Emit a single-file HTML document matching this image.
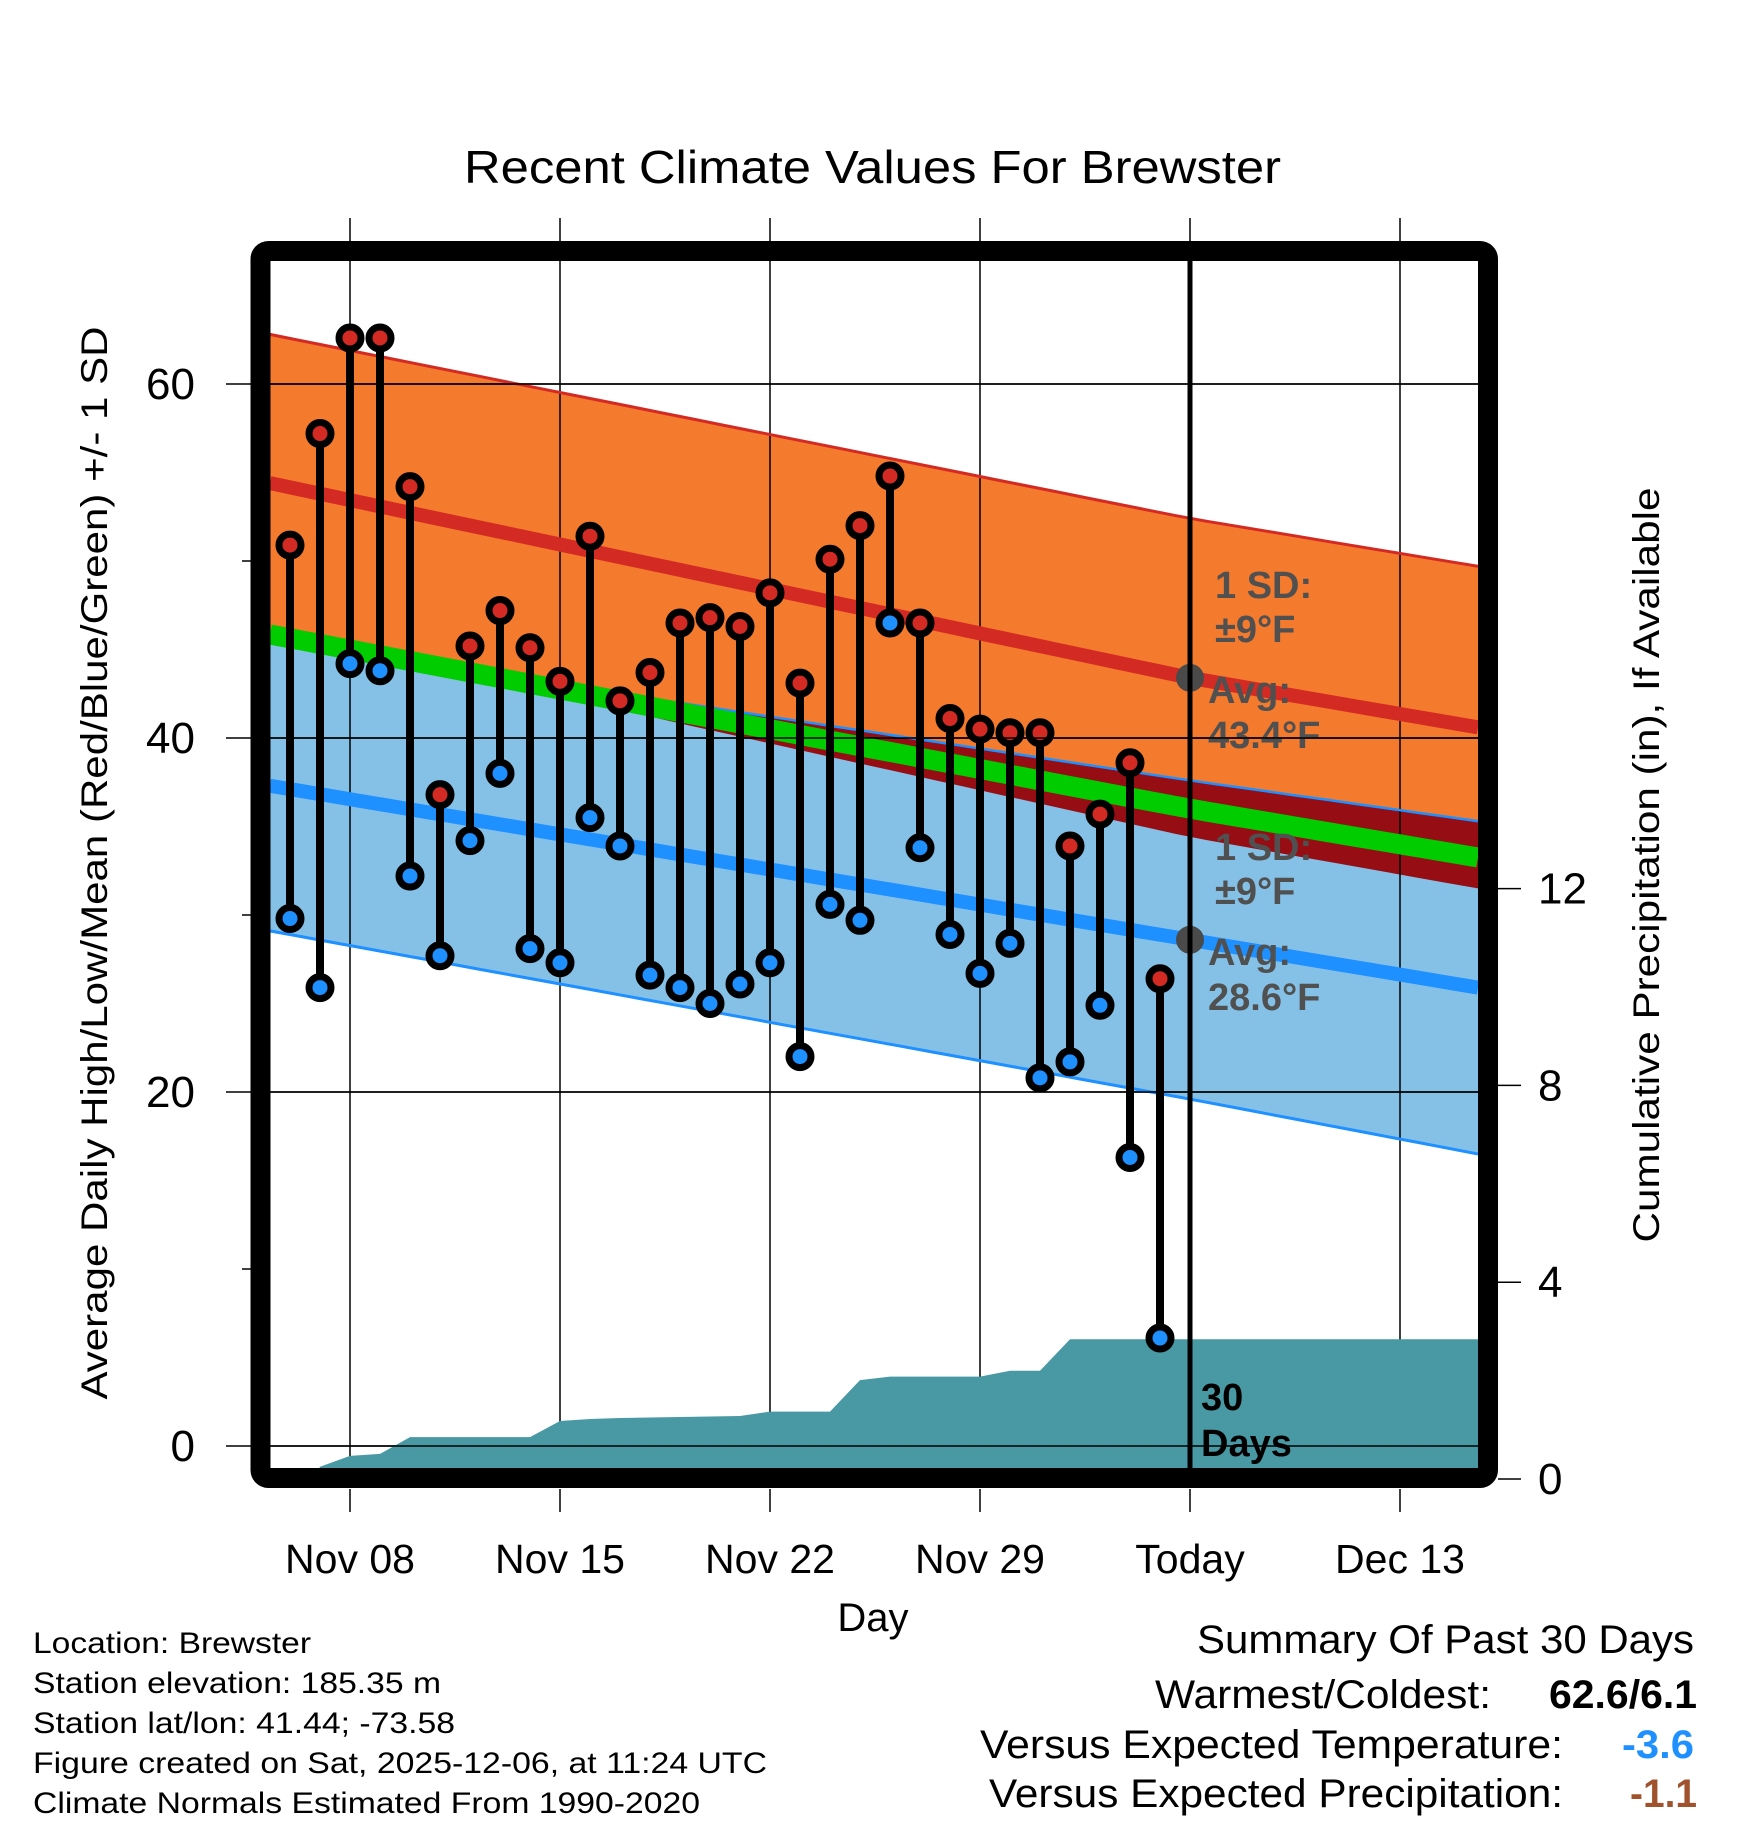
<!DOCTYPE html>
<html><head><meta charset="utf-8"><style>
html,body{margin:0;padding:0;background:#fff;}
svg{display:block;font-family:"Liberation Sans",Arial,sans-serif;}
</style></head><body>
<svg id="chart" width="1748" height="1828" viewBox="0 0 1748 1828" xmlns="http://www.w3.org/2000/svg">
<defs><clipPath id="plotclip"><rect x="270" y="261" width="1208" height="1207"/></clipPath></defs>
<g id="plot" clip-path="url(#plotclip)"></g>
<g id="overlay"></g>
</svg>
<script>
// ---- data ----
const days = [-2,-1,0,1,2,3,4,5,6,7,8,9,10,11,12,13,14,15,16,17,18,19,20,21,22,23,24,25,26,27];
const highs = [50.9,57.2,62.6,62.6,54.2,36.8,45.2,47.2,45.1,43.2,51.4,42.1,43.7,46.5,46.8,46.3,48.2,43.1,50.1,52.0,54.8,46.5,41.1,40.5,40.3,40.3,33.9,35.7,38.6,26.4];
const lows = [29.8,25.9,44.2,43.8,32.2,27.7,34.2,38.0,28.1,27.3,35.5,33.9,26.6,25.9,25.0,26.1,27.3,22.0,30.6,29.7,46.5,33.8,28.9,26.7,28.4,20.8,21.7,24.9,16.3,6.1];
const precip = [0,0.25,0.47,0.51,0.85,0.85,0.85,0.85,0.85,1.18,1.22,1.24,1.25,1.26,1.27,1.28,1.37,1.37,1.37,2.01,2.08,2.08,2.08,2.08,2.2,2.2,2.84,2.84,2.84,2.84];
const normDays = [-2.67, 28, 37.6];
const normHigh = [54.4, 43.4, 40.6];
const normLow = [37.3, 28.6, 25.9];
const sdHigh = [8.4, 9.0, 9.1];
const sdLow = [8.2, 9.0, 9.4];
const xTickDays = [0,7,14,21,28,35];
const xTickLabels = ["Nov 08","Nov 15","Nov 22","Nov 29","Today","Dec 13"];
const yTicks = [0,20,40,60];
const yMinor = [10,30,50];
const pTicks = [0,4,8,12];

// ---- scales ----
const X = d => 350 + 30*d;
const Y = v => 1446 - 17.7*v;
const P = p => 1479 - 49.2*p;
const NS = "http://www.w3.org/2000/svg";
const plot = document.getElementById('plot');
const ov = document.getElementById('overlay');
function el(tag, attrs, parent, text){
  const e=document.createElementNS(NS,tag);
  for(const k in attrs) e.setAttribute(k,attrs[k]);
  if(text!==undefined) e.textContent=text;
  parent.appendChild(e); return e;
}
function interp(arr, d){
  for(let i=0;i<normDays.length-1;i++){
    if(d<=normDays[i+1]||i==normDays.length-2){
      const t=(d-normDays[i])/(normDays[i+1]-normDays[i]);
      return arr[i]+t*(arr[i+1]-arr[i]);
    }
  }
}
const sampleDays=[];
for(let d=normDays[0]; d<=normDays[normDays.length-1]+0.001; d+= (normDays[normDays.length-1]-normDays[0])/40) sampleDays.push(d);
const lineStr = f => sampleDays.map(d=>X(d).toFixed(1)+','+Y(f(d)).toFixed(1));
const revStr = f => sampleDays.slice().reverse().map(d=>X(d).toFixed(1)+','+Y(f(d)).toFixed(1));
const hi = d=>interp(normHigh,d), lo = d=>interp(normLow,d);
const sh = d=>interp(sdHigh,d), sl = d=>interp(sdLow,d);

// gridlines (under)
yTicks.forEach(v=>{ const g=el('line',{x1:226,x2:1478,y1:Y(v),y2:Y(v),stroke:'#000','stroke-width':1.5},ov);

 });
// bands
let e;
e=el('polygon',{points:lineStr(d=>lo(d)+sl(d)).concat(revStr(d=>lo(d)-sl(d))).join(' '),fill:'#85c1e6'},plot);


e=el('polygon',{points:lineStr(d=>lo(d)+sl(d)).concat(revStr(d=>Math.min(hi(d)-sh(d),lo(d)+sl(d)))).join(' '),fill:'#960d14'},plot);


e=el('polygon',{points:lineStr(d=>hi(d)+sh(d)).concat(revStr(d=>Math.max(lo(d)+sl(d),hi(d)-sh(d)))).join(' '),fill:'#f47a2e'},plot);


// grid inside plot over bands
yTicks.forEach(v=>{ const g=el('line',{x1:270,x2:1478,y1:Y(v),y2:Y(v),stroke:'#000','stroke-width':1.5},plot);

 });
xTickDays.forEach(d=>{ const g=el('line',{x1:X(d),x2:X(d),y1:261,y2:1468,stroke:'#000','stroke-width':1.5},plot);

 });
// precip
const pp=[X(-1.2)+','+P(0)];
days.forEach((d,i)=>{ if(d>=-1) pp.push(X(d)+','+P(precip[i])); });
pp.push('1478,'+P(precip[precip.length-1]),'1478,1480',X(-1.2)+',1480');
e=el('polygon',{points:pp.join(' '),fill:'#4899a3'},plot);


// lines
const lines=[
 [d=>lo(d)+sl(d),'#1e90ff',2.5,'low-plus-sd-line'],
 [d=>(hi(d)+lo(d))/2,'#00cc00',20,'mean-line'],
 [hi,'#d42a24',14,'avg-high-line'],
 [d=>hi(d)+sh(d),'#d42a24',3,'high-plus-sd-line'],
 [lo,'#1e90ff',14,'avg-low-line'],
 [d=>lo(d)-sl(d),'#1e90ff',3,'low-minus-sd-line']];
lines.forEach(l=>{ const p=el('polyline',{points:lineStr(l[0]).join(' '),fill:'none',stroke:l[1],'stroke-width':l[2]},plot);

 });
// annotations
const ann=[[1215,598,'1 SD:'],[1215,642,'±9°F'],[1208,703,'Avg:'],[1208,748,'43.4°F'],[1215,860,'1 SD:'],[1215,904,'±9°F'],[1208,965,'Avg:'],[1208,1010,'28.6°F']];
ann.forEach(a=>{ const t=el('text',{x:a[0],y:a[1],'font-size':38,'font-weight':'bold',fill:'#505050'},plot,a[2]);

 });
// today dots
[[hi,'today-avg-high-dot'],[lo,'today-avg-low-dot']].forEach(a=>{ const c=el('circle',{cx:X(28),cy:Y(a[0](28)),r:14,fill:'#4a4a4a'},plot);

 });
// today line
e=el('line',{x1:X(28),x2:X(28),y1:261,y2:1468,stroke:'#000','stroke-width':5},plot);


e=el('text',{x:1201,y:1410,'font-size':38,'font-weight':'bold',fill:'#000'},plot,'30');


e=el('text',{x:1201,y:1456,'font-size':38,'font-weight':'bold',fill:'#000'},plot,'Days');


// stems & markers
days.forEach((d,i)=>{
  const s=el('line',{x1:X(d),x2:X(d),y1:Y(highs[i]),y2:Y(lows[i]),stroke:'#000','stroke-width':8},plot);
  
  
});
days.forEach((d,i)=>{
  const a=el('circle',{cx:X(d),cy:Y(highs[i]),r:11,fill:'#d42a24',stroke:'#000','stroke-width':7},plot);
  
  
  const b=el('circle',{cx:X(d),cy:Y(lows[i]),r:11,fill:'#1e90ff',stroke:'#000','stroke-width':7},plot);
  
  
});
// frame
e=el('rect',{x:260.5,y:251,width:1227.5,height:1227,rx:8,fill:'none',stroke:'#000','stroke-width':20},ov);


// x ticks
xTickDays.forEach((d,i)=>{
  const a=el('line',{x1:X(d),x2:X(d),y1:218,y2:241,stroke:'#000','stroke-width':1.5},ov);
  
  
  const b=el('line',{x1:X(d),x2:X(d),y1:1489,y2:1512,stroke:'#000','stroke-width':1.5},ov);
  
  
  const t=el('text',{x:X(d),y:1573,'font-size':41,'text-anchor':'middle'},ov,xTickLabels[i]);
  
  
});
yTicks.forEach(v=>{ const t=el('text',{x:195,y:Y(v)+15,'font-size':44,'text-anchor':'end'},ov,String(v));

 });
yMinor.forEach(v=>{ const t=el('line',{x1:242,x2:251,y1:Y(v),y2:Y(v),stroke:'#000','stroke-width':1.5},ov);

 });
pTicks.forEach(p=>{
  const l=el('line',{x1:1498,x2:1521,y1:P(p),y2:P(p),stroke:'#000','stroke-width':1.5},ov);
  
  
  const t=el('text',{x:1538,y:P(p)+15,'font-size':44},ov,String(p));
  
  
});
</script>
<script>
// static text
(function(){
const NS="http://www.w3.org/2000/svg", ov=document.getElementById('overlay');
const T=[
 [464,183,46,'start','#000','normal',817,'Recent Climate Values For Brewster','chart-title'],
 [873,1631,40,'middle','#000','normal',0,'Day','x-axis-title'],
 [33,1653,30,'start','#000','normal',278,'Location: Brewster','location-text'],
 [33,1693,30,'start','#000','normal',408,'Station elevation: 185.35 m','elevation-text'],
 [33,1733,30,'start','#000','normal',422,'Station lat/lon: 41.44; -73.58','latlon-text'],
 [33,1773,30,'start','#000','normal',734,'Figure created on Sat, 2025-12-06, at 11:24 UTC','created-text'],
 [33,1813,30,'start','#000','normal',667,'Climate Normals Estimated From 1990-2020','normals-text'],
 [1197,1653,40,'start','#000','normal',497,'Summary Of Past 30 Days','summary-title'],
 [1155,1708,40,'start','#000','normal',336,'Warmest/Coldest:','warmest-label'],
 [1549,1708,40,'start','#000','bold',148,'62.6/6.1','warmest-value'],
 [980,1758,40,'start','#000','normal',583,'Versus Expected Temperature:','temp-label'],
 [1622,1758,40,'start','#1e90ff','bold',72,'-3.6','temp-value'],
 [989,1807,40,'start','#000','normal',574,'Versus Expected Precipitation:','precip-label'],
 [1630,1807,40,'start','#a0522d','bold',67,'-1.1','precip-value']];
T.forEach(a=>{
  const t=document.createElementNS(NS,'text');
  t.setAttribute('x',a[0]);t.setAttribute('y',a[1]);t.setAttribute('font-size',a[2]);
  t.setAttribute('text-anchor',a[3]);t.setAttribute('fill',a[4]);t.setAttribute('font-weight',a[5]);
  if(a[6]){t.setAttribute('textLength',a[6]);t.setAttribute('lengthAdjust','spacingAndGlyphs');}
  t.textContent=a[7];
  
  
  ov.appendChild(t);
});
const yl=document.createElementNS(NS,'text');
yl.setAttribute('transform','translate(107,863) rotate(-90)');
yl.setAttribute('text-anchor','middle');yl.setAttribute('font-size',37);
yl.setAttribute('textLength',1073);yl.setAttribute('lengthAdjust','spacingAndGlyphs');
yl.textContent='Average Daily High/Low/Mean (Red/Blue/Green) +/- 1 SD';


ov.appendChild(yl);
const yr=document.createElementNS(NS,'text');
yr.setAttribute('transform','translate(1659,865) rotate(-90)');
yr.setAttribute('text-anchor','middle');yr.setAttribute('font-size',37);
yr.setAttribute('textLength',755);yr.setAttribute('lengthAdjust','spacingAndGlyphs');
yr.textContent='Cumulative Precipitation (in), If Available';


ov.appendChild(yr);
})();
</script>
</body></html>
